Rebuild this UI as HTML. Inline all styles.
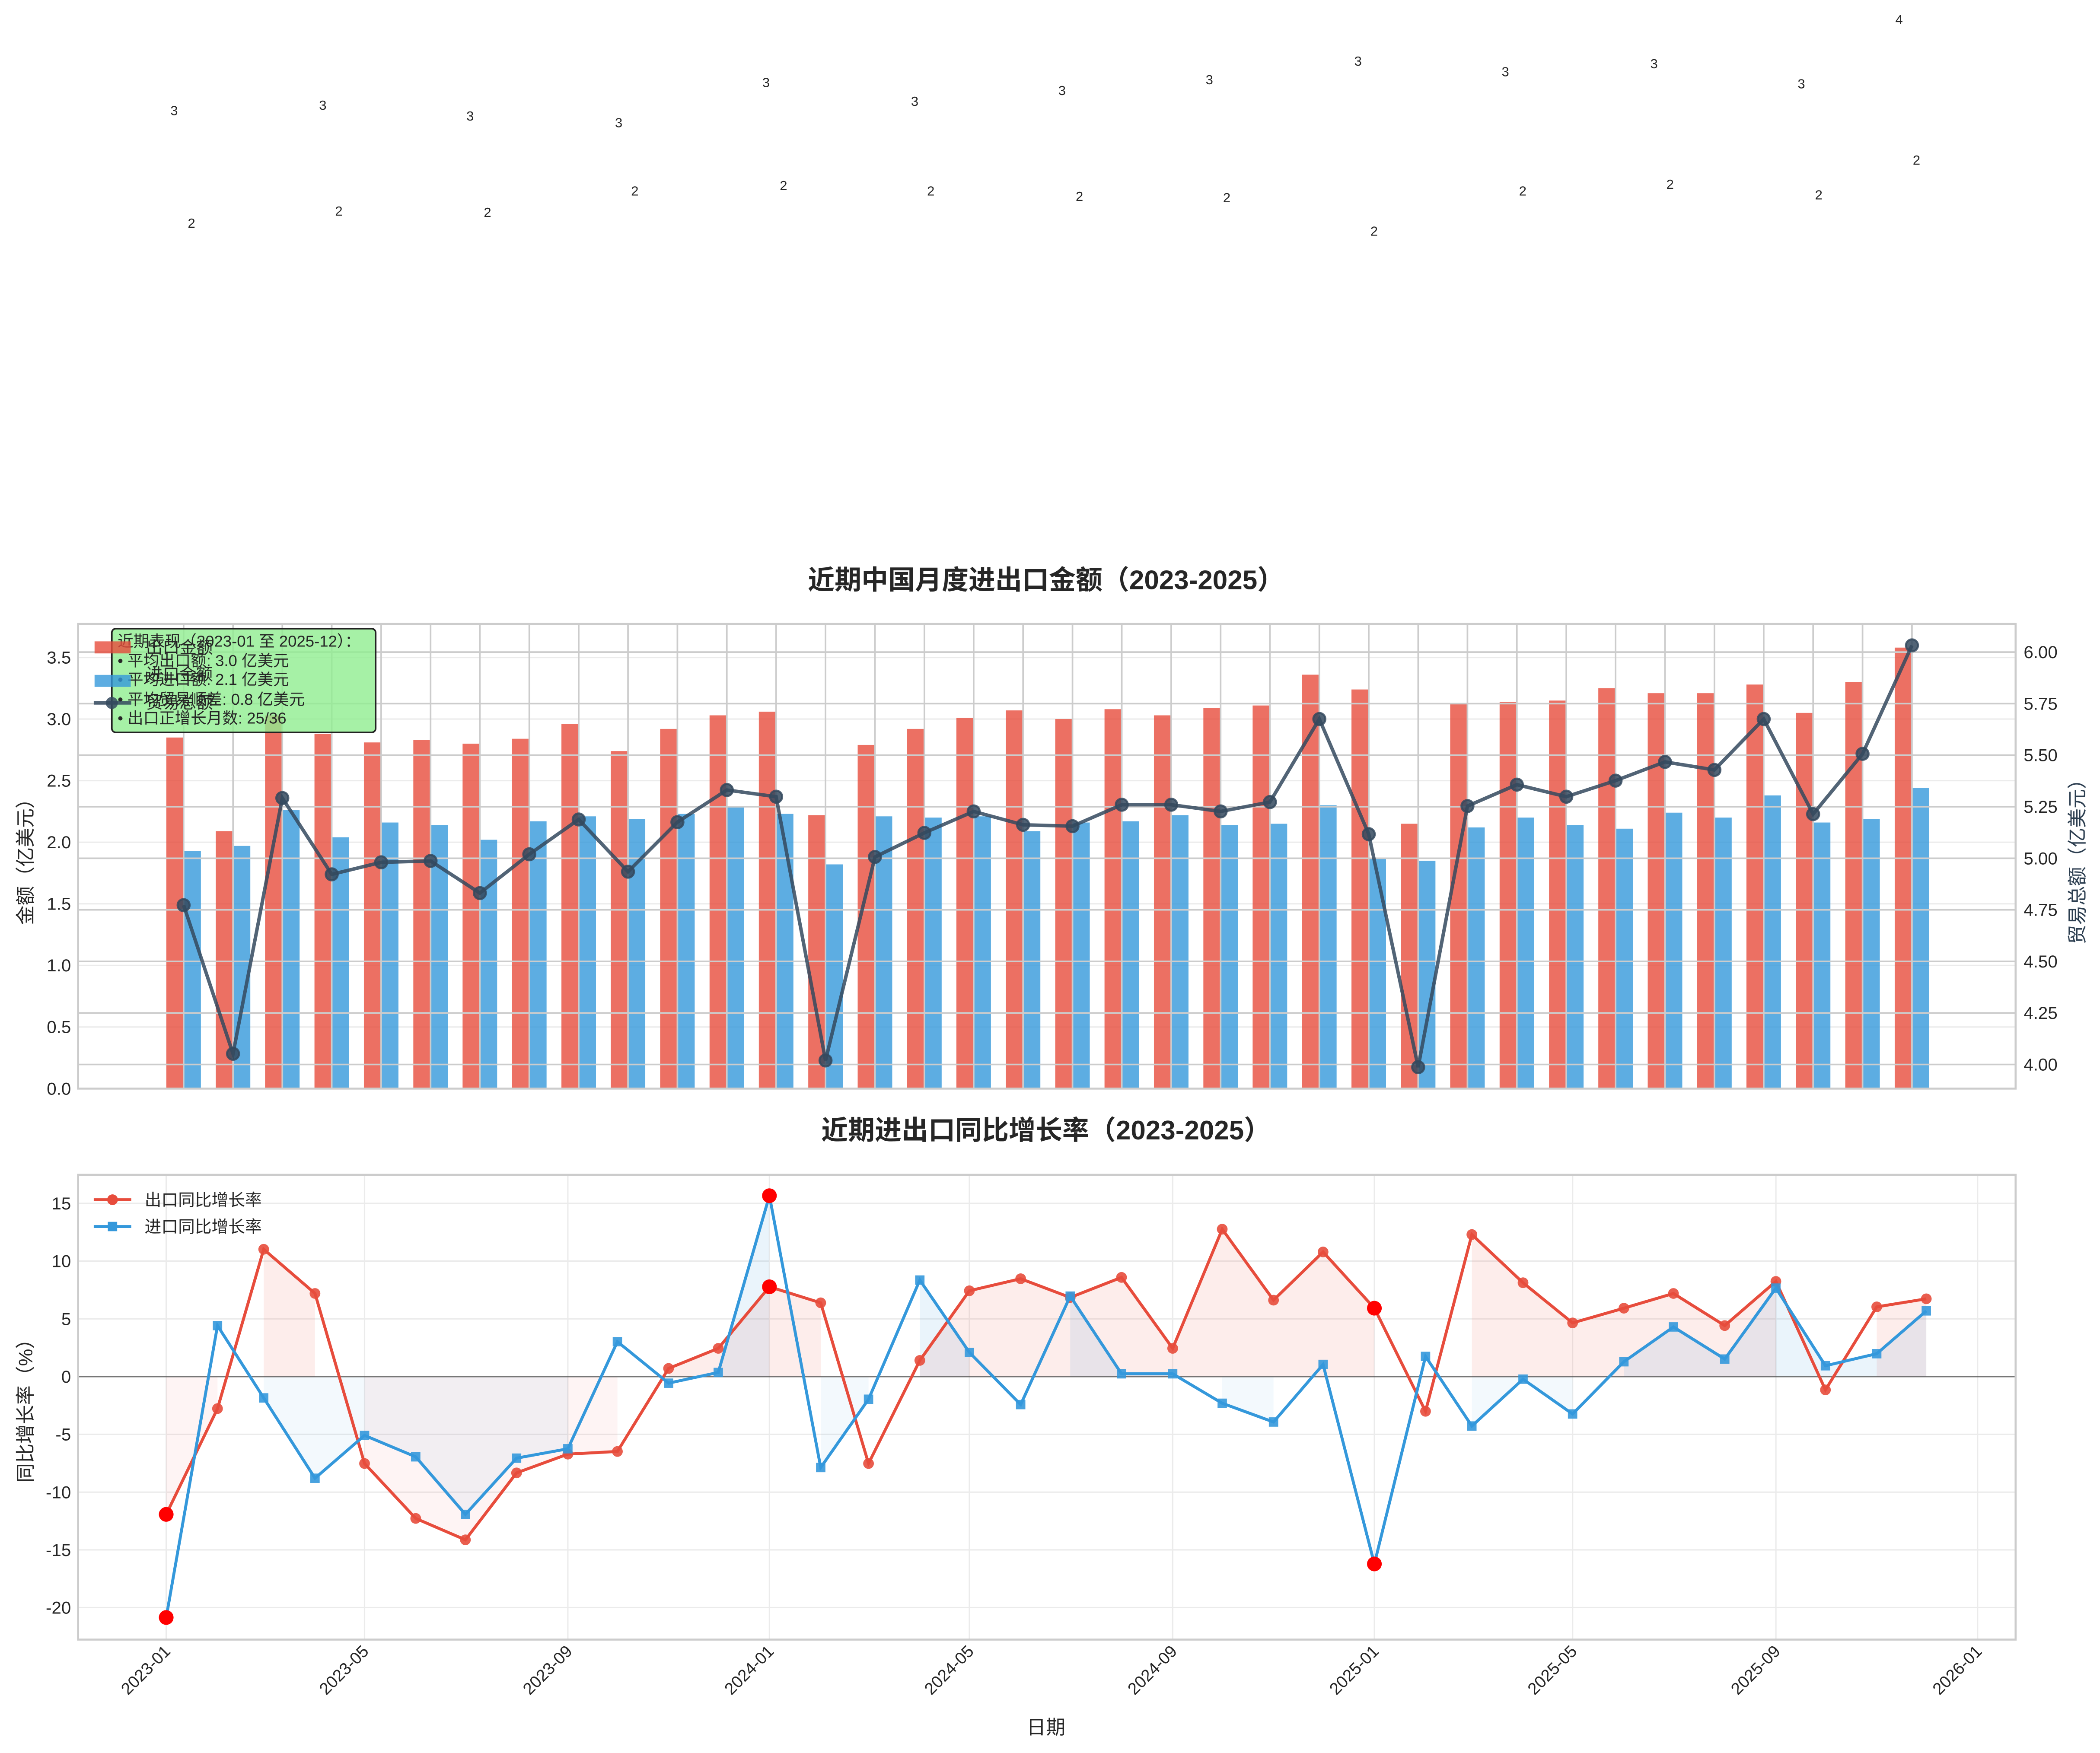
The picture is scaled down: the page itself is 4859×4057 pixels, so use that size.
<!DOCTYPE html>
<html><head><meta charset="utf-8"><style>
html,body{margin:0;padding:0;background:#fff;}
svg{display:block;}
text{font-family:"Liberation Sans","Noto Sans CJK SC",sans-serif;fill:#262626;}
</style></head><body>
<svg width="4859" height="4057" viewBox="0 0 1568 1309.2" preserveAspectRatio="none" xmlns="http://www.w3.org/2000/svg">
<rect width="1568" height="1310" fill="#fff"/>
<g font-size="10" text-anchor="middle">
<text x="130" y="86">3</text><text x="241" y="82">3</text><text x="351" y="90">3</text><text x="462" y="95">3</text><text x="572" y="65">3</text><text x="683" y="79">3</text><text x="793" y="71">3</text><text x="903" y="63">3</text><text x="1014" y="49">3</text><text x="1124" y="57">3</text><text x="1235" y="51">3</text><text x="1345" y="66">3</text><text x="1418" y="18">4</text>
<text x="143" y="170">2</text><text x="253" y="161">2</text><text x="364" y="162">2</text><text x="474" y="146">2</text><text x="585" y="142">2</text><text x="695" y="146">2</text><text x="806" y="150">2</text><text x="916" y="151">2</text><text x="1026" y="176">2</text><text x="1137" y="146">2</text><text x="1247" y="141">2</text><text x="1358" y="149">2</text><text x="1431" y="123">2</text>
</g>
<text x="781" y="440" font-size="20" font-weight="bold" text-anchor="middle">近期中国月度进出口金额（2023-2025）</text>
<g stroke="#ebebeb" stroke-width="1">
<line x1="58" x2="1505" y1="767" y2="767"/><line x1="58" x2="1505" y1="721" y2="721"/><line x1="58" x2="1505" y1="675" y2="675"/><line x1="58" x2="1505" y1="629" y2="629"/><line x1="58" x2="1505" y1="583" y2="583"/><line x1="58" x2="1505" y1="537" y2="537"/><line x1="58" x2="1505" y1="491" y2="491"/>
</g>
<g fill="#e74c3c" fill-opacity="0.8" transform="matrix(1,0,0,-92,0,813)">
<rect x="124.2" y="0" width="12.9" height="2.85"/><rect x="161.1" y="0" width="12.9" height="2.09"/><rect x="197.9" y="0" width="12.9" height="3.03"/><rect x="234.8" y="0" width="12.9" height="2.88"/><rect x="271.7" y="0" width="12.9" height="2.81"/><rect x="308.6" y="0" width="12.9" height="2.83"/><rect x="345.4" y="0" width="12.9" height="2.80"/><rect x="382.3" y="0" width="12.9" height="2.84"/><rect x="419.2" y="0" width="12.9" height="2.96"/><rect x="456.0" y="0" width="12.9" height="2.74"/><rect x="492.9" y="0" width="12.9" height="2.92"/><rect x="529.8" y="0" width="12.9" height="3.03"/><rect x="566.6" y="0" width="12.9" height="3.06"/><rect x="603.5" y="0" width="12.9" height="2.22"/><rect x="640.4" y="0" width="12.9" height="2.79"/><rect x="677.3" y="0" width="12.9" height="2.92"/><rect x="714.1" y="0" width="12.9" height="3.01"/><rect x="751.0" y="0" width="12.9" height="3.07"/><rect x="787.9" y="0" width="12.9" height="3.00"/><rect x="824.7" y="0" width="12.9" height="3.08"/><rect x="861.6" y="0" width="12.9" height="3.03"/><rect x="898.5" y="0" width="12.9" height="3.09"/><rect x="935.3" y="0" width="12.9" height="3.11"/><rect x="972.2" y="0" width="12.9" height="3.36"/><rect x="1009.1" y="0" width="12.9" height="3.24"/><rect x="1046.0" y="0" width="12.9" height="2.15"/><rect x="1082.8" y="0" width="12.9" height="3.13"/><rect x="1119.7" y="0" width="12.9" height="3.14"/><rect x="1156.6" y="0" width="12.9" height="3.15"/><rect x="1193.4" y="0" width="12.9" height="3.25"/><rect x="1230.3" y="0" width="12.9" height="3.21"/><rect x="1267.2" y="0" width="12.9" height="3.21"/><rect x="1304.0" y="0" width="12.9" height="3.28"/><rect x="1340.9" y="0" width="12.9" height="3.05"/><rect x="1377.8" y="0" width="12.9" height="3.30"/><rect x="1414.7" y="0" width="12.9" height="3.58"/>
</g>
<g fill="#3498db" fill-opacity="0.8" transform="matrix(1,0,0,-92,0,813)">
<rect x="137.1" y="0" width="12.9" height="1.93"/><rect x="174.0" y="0" width="12.9" height="1.97"/><rect x="210.8" y="0" width="12.9" height="2.26"/><rect x="247.7" y="0" width="12.9" height="2.04"/><rect x="284.6" y="0" width="12.9" height="2.16"/><rect x="321.5" y="0" width="12.9" height="2.14"/><rect x="358.3" y="0" width="12.9" height="2.02"/><rect x="395.2" y="0" width="12.9" height="2.17"/><rect x="432.1" y="0" width="12.9" height="2.21"/><rect x="468.9" y="0" width="12.9" height="2.19"/><rect x="505.8" y="0" width="12.9" height="2.23"/><rect x="542.7" y="0" width="12.9" height="2.29"/><rect x="579.5" y="0" width="12.9" height="2.23"/><rect x="616.4" y="0" width="12.9" height="1.82"/><rect x="653.3" y="0" width="12.9" height="2.21"/><rect x="690.2" y="0" width="12.9" height="2.20"/><rect x="727.0" y="0" width="12.9" height="2.21"/><rect x="763.9" y="0" width="12.9" height="2.09"/><rect x="800.8" y="0" width="12.9" height="2.16"/><rect x="837.6" y="0" width="12.9" height="2.17"/><rect x="874.5" y="0" width="12.9" height="2.22"/><rect x="911.4" y="0" width="12.9" height="2.14"/><rect x="948.2" y="0" width="12.9" height="2.15"/><rect x="985.1" y="0" width="12.9" height="2.30"/><rect x="1022.0" y="0" width="12.9" height="1.87"/><rect x="1058.9" y="0" width="12.9" height="1.85"/><rect x="1095.7" y="0" width="12.9" height="2.12"/><rect x="1132.6" y="0" width="12.9" height="2.20"/><rect x="1169.5" y="0" width="12.9" height="2.14"/><rect x="1206.3" y="0" width="12.9" height="2.11"/><rect x="1243.2" y="0" width="12.9" height="2.24"/><rect x="1280.1" y="0" width="12.9" height="2.20"/><rect x="1316.9" y="0" width="12.9" height="2.38"/><rect x="1353.8" y="0" width="12.9" height="2.16"/><rect x="1390.7" y="0" width="12.9" height="2.19"/><rect x="1427.6" y="0" width="12.9" height="2.44"/>
</g>
<g stroke="#cccccc" stroke-width="1.2">
<line x1="58" x2="1505" y1="795" y2="795"/><line x1="58" x2="1505" y1="756.5" y2="756.5"/><line x1="58" x2="1505" y1="718" y2="718"/><line x1="58" x2="1505" y1="679.5" y2="679.5"/><line x1="58" x2="1505" y1="641" y2="641"/><line x1="58" x2="1505" y1="602.5" y2="602.5"/><line x1="58" x2="1505" y1="564" y2="564"/><line x1="58" x2="1505" y1="525.5" y2="525.5"/><line x1="58" x2="1505" y1="487" y2="487"/>
<path d="M137.1 466V813M174 466V813M210.8 466V813M247.7 466V813M284.6 466V813M321.5 466V813M358.3 466V813M395.2 466V813M432.1 466V813M468.9 466V813M505.8 466V813M542.7 466V813M579.5 466V813M616.4 466V813M653.3 466V813M690.2 466V813M727 466V813M763.9 466V813M800.8 466V813M837.6 466V813M874.5 466V813M911.4 466V813M948.2 466V813M985.1 466V813M1022 466V813M1058.9 466V813M1095.7 466V813M1132.6 466V813M1169.5 466V813M1206.3 466V813M1243.2 466V813M1280.1 466V813M1316.9 466V813M1353.8 466V813M1390.7 466V813M1427.6 466V813"/>
</g>
<g stroke="#34495e" stroke-opacity="0.85" fill="#34495e" fill-opacity="0.85">
<polyline fill="none" stroke-width="2.6" points="137.1,676 174,787 210.8,596 247.7,653 284.6,644 321.5,643 358.3,667 395.2,638 432.1,612 468.9,651 505.8,614 542.7,590 579.5,595 616.4,792 653.3,640 690.2,622 727,606 763.9,616 800.8,617 837.6,601 874.5,601 911.4,606 948.2,599 985.1,537 1022,623 1058.9,797 1095.7,602 1132.6,586 1169.5,595 1206.3,583 1243.2,569 1280.1,575 1316.9,537 1353.8,608 1390.7,563 1427.6,482"/>
<g stroke-width="1.5">
<circle cx="137.1" cy="676" r="4.5"/><circle cx="174" cy="787" r="4.5"/><circle cx="210.8" cy="596" r="4.5"/><circle cx="247.7" cy="653" r="4.5"/><circle cx="284.6" cy="644" r="4.5"/><circle cx="321.5" cy="643" r="4.5"/><circle cx="358.3" cy="667" r="4.5"/><circle cx="395.2" cy="638" r="4.5"/><circle cx="432.1" cy="612" r="4.5"/><circle cx="468.9" cy="651" r="4.5"/><circle cx="505.8" cy="614" r="4.5"/><circle cx="542.7" cy="590" r="4.5"/><circle cx="579.5" cy="595" r="4.5"/><circle cx="616.4" cy="792" r="4.5"/><circle cx="653.3" cy="640" r="4.5"/><circle cx="690.2" cy="622" r="4.5"/><circle cx="727" cy="606" r="4.5"/><circle cx="763.9" cy="616" r="4.5"/><circle cx="800.8" cy="617" r="4.5"/><circle cx="837.6" cy="601" r="4.5"/><circle cx="874.5" cy="601" r="4.5"/><circle cx="911.4" cy="606" r="4.5"/><circle cx="948.2" cy="599" r="4.5"/><circle cx="985.1" cy="537" r="4.5"/><circle cx="1022" cy="623" r="4.5"/><circle cx="1058.9" cy="797" r="4.5"/><circle cx="1095.7" cy="602" r="4.5"/><circle cx="1132.6" cy="586" r="4.5"/><circle cx="1169.5" cy="595" r="4.5"/><circle cx="1206.3" cy="583" r="4.5"/><circle cx="1243.2" cy="569" r="4.5"/><circle cx="1280.1" cy="575" r="4.5"/><circle cx="1316.9" cy="537" r="4.5"/><circle cx="1353.8" cy="608" r="4.5"/><circle cx="1390.7" cy="563" r="4.5"/><circle cx="1427.6" cy="482" r="4.5"/>
</g></g>
<rect x="58.3" y="466" width="1446.7" height="347" fill="none" stroke="#cccccc" stroke-width="1.5"/>
<g font-size="13" text-anchor="end">
<text x="53" y="817.5">0.0</text><text x="53" y="771.5">0.5</text><text x="53" y="725.5">1.0</text><text x="53" y="679.5">1.5</text><text x="53" y="633.5">2.0</text><text x="53" y="587.5">2.5</text><text x="53" y="541.5">3.0</text><text x="53" y="495.5">3.5</text>
</g>
<g font-size="13" text-anchor="start">
<text x="1511" y="799.5">4.00</text><text x="1511" y="761">4.25</text><text x="1511" y="722.5">4.50</text><text x="1511" y="684">4.75</text><text x="1511" y="645.5">5.00</text><text x="1511" y="607">5.25</text><text x="1511" y="568.5">5.50</text><text x="1511" y="530">5.75</text><text x="1511" y="491.5">6.00</text>
</g>
<text transform="translate(24,640) rotate(-90)" font-size="14.5" text-anchor="middle">金额（亿美元）</text>
<text transform="translate(1556,640) rotate(-90)" font-size="14.5" text-anchor="middle" style="fill:#2c3e50">贸易总额（亿美元）</text>
<rect x="83.5" y="469.5" width="197" height="77.5" rx="3" fill="#90ee90" fill-opacity="0.8" stroke="#222" stroke-width="1.2"/>
<g font-size="11.8">
<text x="87.8" y="483">近期表现（2023-01 至 2025-12）：</text>
<text x="87.8" y="497.5">• 平均出口额: 3.0 亿美元</text>
<text x="87.8" y="511.5">• 平均进口额: 2.1 亿美元</text>
<text x="87.8" y="526.3">• 平均贸易顺差: 0.8 亿美元</text>
<text x="87.8" y="540.3">• 出口正增长月数: 25/36</text>
</g>
<rect x="70.6" y="479" width="27" height="9" fill="#e74c3c" fill-opacity="0.8"/>
<rect x="70.6" y="504" width="27" height="9" fill="#3498db" fill-opacity="0.8"/>
<line x1="70" x2="98" y1="525" y2="525" stroke="#34495e" stroke-opacity="0.85" stroke-width="2.5"/>
<circle cx="83.5" cy="525" r="4.5" fill="#34495e" fill-opacity="0.85"/>
<g font-size="12.5">
<text x="109" y="488">出口金额</text>
<text x="109" y="508">进口金额</text>
<text x="109" y="529">贸易总额</text>
</g>
<text x="781" y="851" font-size="20" font-weight="bold" text-anchor="middle">近期进出口同比增长率（2023-2025）</text>
<g stroke="#ebebeb" stroke-width="1">
<line x1="58" x2="1505" y1="898.7" y2="898.7"/><line x1="58" x2="1505" y1="941.8" y2="941.8"/><line x1="58" x2="1505" y1="985" y2="985"/><line x1="58" x2="1505" y1="1071.2" y2="1071.2"/><line x1="58" x2="1505" y1="1114.4" y2="1114.4"/><line x1="58" x2="1505" y1="1157.5" y2="1157.5"/><line x1="58" x2="1505" y1="1200.6" y2="1200.6"/>
<path d="M124.1 877V1224.5M272.2 877V1224.5M424 877V1224.5M574.5 877V1224.5M723.8 877V1224.5M875.6 877V1224.5M1026.2 877V1224.5M1174.2 877V1224.5M1326 877V1224.5M1476.6 877V1224.5"/>
</g>
<g fill="#e74c3c">
<polygon fill-opacity="0.06" points="124.1,1028.1 124.1,1131 162.4,1052 162.4,1028.1"/>
<polygon fill-opacity="0.1" points="196.9,1028.1 196.9,933 235.2,966 235.2,1028.1"/>
<polygon fill-opacity="0.06" points="272.2,1028.1 272.2,1093 310.4,1134 347.5,1150 385.7,1100 424,1086 461,1084 461,1028.1"/>
<polygon fill-opacity="0.1" points="499.2,1028.1 499.2,1022 536.3,1007 574.5,961 612.8,973 612.8,1028.1"/>
<polygon fill-opacity="0.1" points="686.8,1028.1 686.8,1016 723.8,964 762.1,955 799.1,969 837.4,954 875.6,1007 912.6,918 950.9,971 987.9,935 1026.2,977 1026.2,1028.1"/>
<polygon fill-opacity="0.1" points="1099,1028.1 1099,922 1137.2,958 1174.2,988 1212.5,977 1249.5,966 1287.8,990 1326,957 1326,1028.1"/>
<polygon fill-opacity="0.1" points="1401.3,1028.1 1401.3,976 1438.3,970 1438.3,1028.1"/>
</g>
<g fill="#3498db">
<polygon fill-opacity="0.06" points="196.9,1028.1 196.9,1044 235.2,1104 272.2,1072 310.4,1088 347.5,1131 385.7,1089 424,1082 424,1028.1"/>
<polygon fill-opacity="0.1" points="536.3,1028.1 536.3,1025 574.5,893 574.5,1028.1"/>
<polygon fill-opacity="0.06" points="612.8,1028.1 612.8,1096 648.5,1045 648.5,1028.1"/>
<polygon fill-opacity="0.1" points="686.8,1028.1 686.8,956 723.8,1010 723.8,1028.1"/>
<polygon fill-opacity="0.1" points="799.1,1028.1 799.1,968 837.4,1026 875.6,1026 875.6,1028.1"/>
<polygon fill-opacity="0.06" points="912.6,1028.1 912.6,1048 950.9,1062 950.9,1028.1"/>
<polygon fill-opacity="0.06" points="1099,1028.1 1099,1065 1137.2,1030 1174.2,1056 1174.2,1028.1"/>
<polygon fill-opacity="0.1" points="1212.5,1028.1 1212.5,1017 1249.5,991 1287.8,1015 1326,962 1363,1020 1401.3,1011 1438.3,979 1438.3,1028.1"/>
</g>
<line x1="58" x2="1505" y1="1028.1" y2="1028.1" stroke="#555" stroke-opacity="0.8" stroke-width="1"/>
<g stroke="#e74c3c" fill="#e74c3c">
<polyline fill="none" stroke-width="2.2" points="124.1,1131 162.4,1052 196.9,933 235.2,966 272.2,1093 310.4,1134 347.5,1150 385.7,1100 424,1086 461,1084 499.2,1022 536.3,1007 574.5,961 612.8,973 648.5,1093 686.8,1016 723.8,964 762.1,955 799.1,969 837.4,954 875.6,1007 912.6,918 950.9,971 987.9,935 1026.2,977 1064.4,1054 1099,922 1137.2,958 1174.2,988 1212.5,977 1249.5,966 1287.8,990 1326,957 1363,1038 1401.3,976 1438.3,970"/>
<g stroke="none" fill-opacity="0.9">
<circle cx="162.4" cy="1052" r="4"/><circle cx="196.9" cy="933" r="4"/><circle cx="235.2" cy="966" r="4"/><circle cx="272.2" cy="1093" r="4"/><circle cx="310.4" cy="1134" r="4"/><circle cx="347.5" cy="1150" r="4"/><circle cx="385.7" cy="1100" r="4"/><circle cx="424" cy="1086" r="4"/><circle cx="461" cy="1084" r="4"/><circle cx="499.2" cy="1022" r="4"/><circle cx="536.3" cy="1007" r="4"/><circle cx="612.8" cy="973" r="4"/><circle cx="648.5" cy="1093" r="4"/><circle cx="686.8" cy="1016" r="4"/><circle cx="723.8" cy="964" r="4"/><circle cx="762.1" cy="955" r="4"/><circle cx="799.1" cy="969" r="4"/><circle cx="837.4" cy="954" r="4"/><circle cx="875.6" cy="1007" r="4"/><circle cx="912.6" cy="918" r="4"/><circle cx="950.9" cy="971" r="4"/><circle cx="987.9" cy="935" r="4"/><circle cx="1064.4" cy="1054" r="4"/><circle cx="1099" cy="922" r="4"/><circle cx="1137.2" cy="958" r="4"/><circle cx="1174.2" cy="988" r="4"/><circle cx="1212.5" cy="977" r="4"/><circle cx="1249.5" cy="966" r="4"/><circle cx="1287.8" cy="990" r="4"/><circle cx="1326" cy="957" r="4"/><circle cx="1363" cy="1038" r="4"/><circle cx="1401.3" cy="976" r="4"/><circle cx="1438.3" cy="970" r="4"/>
</g></g>
<g stroke="#3498db" fill="#3498db">
<polyline fill="none" stroke-width="2.2" points="124.1,1208 162.4,990 196.9,1044 235.2,1104 272.2,1072 310.4,1088 347.5,1131 385.7,1089 424,1082 461,1002 499.2,1033 536.3,1025 574.5,893 612.8,1096 648.5,1045 686.8,956 723.8,1010 762.1,1049 799.1,968 837.4,1026 875.6,1026 912.6,1048 950.9,1062 987.9,1019 1026.2,1168 1064.4,1013 1099,1065 1137.2,1030 1174.2,1056 1212.5,1017 1249.5,991 1287.8,1015 1326,962 1363,1020 1401.3,1011 1438.3,979"/>
<g stroke="none" fill-opacity="0.9">
<rect x="158.9" y="986.5" width="7" height="7"/><rect x="193.4" y="1040.5" width="7" height="7"/><rect x="231.7" y="1100.5" width="7" height="7"/><rect x="268.7" y="1068.5" width="7" height="7"/><rect x="306.9" y="1084.5" width="7" height="7"/><rect x="344" y="1127.5" width="7" height="7"/><rect x="382.2" y="1085.5" width="7" height="7"/><rect x="420.5" y="1078.5" width="7" height="7"/><rect x="457.5" y="998.5" width="7" height="7"/><rect x="495.7" y="1029.5" width="7" height="7"/><rect x="532.8" y="1021.5" width="7" height="7"/><rect x="609.3" y="1092.5" width="7" height="7"/><rect x="645" y="1041.5" width="7" height="7"/><rect x="683.3" y="952.5" width="7" height="7"/><rect x="720.3" y="1006.5" width="7" height="7"/><rect x="758.6" y="1045.5" width="7" height="7"/><rect x="795.6" y="964.5" width="7" height="7"/><rect x="833.9" y="1022.5" width="7" height="7"/><rect x="872.1" y="1022.5" width="7" height="7"/><rect x="909.1" y="1044.5" width="7" height="7"/><rect x="947.4" y="1058.5" width="7" height="7"/><rect x="984.4" y="1015.5" width="7" height="7"/><rect x="1060.9" y="1009.5" width="7" height="7"/><rect x="1095.5" y="1061.5" width="7" height="7"/><rect x="1133.7" y="1026.5" width="7" height="7"/><rect x="1170.7" y="1052.5" width="7" height="7"/><rect x="1209" y="1013.5" width="7" height="7"/><rect x="1246" y="987.5" width="7" height="7"/><rect x="1284.3" y="1011.5" width="7" height="7"/><rect x="1322.5" y="958.5" width="7" height="7"/><rect x="1359.5" y="1016.5" width="7" height="7"/><rect x="1397.8" y="1007.5" width="7" height="7"/><rect x="1434.8" y="975.5" width="7" height="7"/>
</g></g>
<g fill="#ff0000">
<circle cx="124.1" cy="1131" r="5.5"/><circle cx="124.1" cy="1208" r="5.5"/>
<circle cx="574.5" cy="961" r="5.5"/><circle cx="574.5" cy="893" r="5.5"/>
<circle cx="1026.2" cy="977" r="5.5"/><circle cx="1026.2" cy="1168" r="5.5"/>
</g>
<rect x="58.3" y="877.4" width="1446.7" height="347.1" fill="none" stroke="#cccccc" stroke-width="1.5"/>
<g font-size="13" text-anchor="end">
<text x="53" y="903.2">15</text><text x="53" y="946.3">10</text><text x="53" y="989.5">5</text><text x="53" y="1032.6">0</text><text x="53" y="1075.7">-5</text><text x="53" y="1118.9">-10</text><text x="53" y="1162">-15</text><text x="53" y="1205.1">-20</text>
</g>
<g font-size="12.5" text-anchor="end">
<text transform="translate(128,1234) rotate(-45)">2023-01</text>
<text transform="translate(276,1234) rotate(-45)">2023-05</text>
<text transform="translate(428,1234) rotate(-45)">2023-09</text>
<text transform="translate(578.5,1234) rotate(-45)">2024-01</text>
<text transform="translate(727.8,1234) rotate(-45)">2024-05</text>
<text transform="translate(879.6,1234) rotate(-45)">2024-09</text>
<text transform="translate(1030.2,1234) rotate(-45)">2025-01</text>
<text transform="translate(1178.2,1234) rotate(-45)">2025-05</text>
<text transform="translate(1330,1234) rotate(-45)">2025-09</text>
<text transform="translate(1480.6,1234) rotate(-45)">2026-01</text>
</g>
<text transform="translate(24,1050) rotate(-90)" font-size="14.5" text-anchor="middle">同比增长率（%）</text>
<text x="781" y="1295" font-size="14.5" text-anchor="middle">日期</text>
<line x1="70" x2="98" y1="896" y2="896" stroke="#e74c3c" stroke-width="2.2"/>
<circle cx="84" cy="896" r="4" fill="#e74c3c"/>
<line x1="70" x2="98" y1="916" y2="916" stroke="#3498db" stroke-width="2.2"/>
<rect x="80.5" y="912.5" width="7" height="7" fill="#3498db"/>
<g font-size="12.5">
<text x="108" y="900.5">出口同比增长率</text>
<text x="108" y="920.5">进口同比增长率</text>
</g>
</svg>
</body></html>
